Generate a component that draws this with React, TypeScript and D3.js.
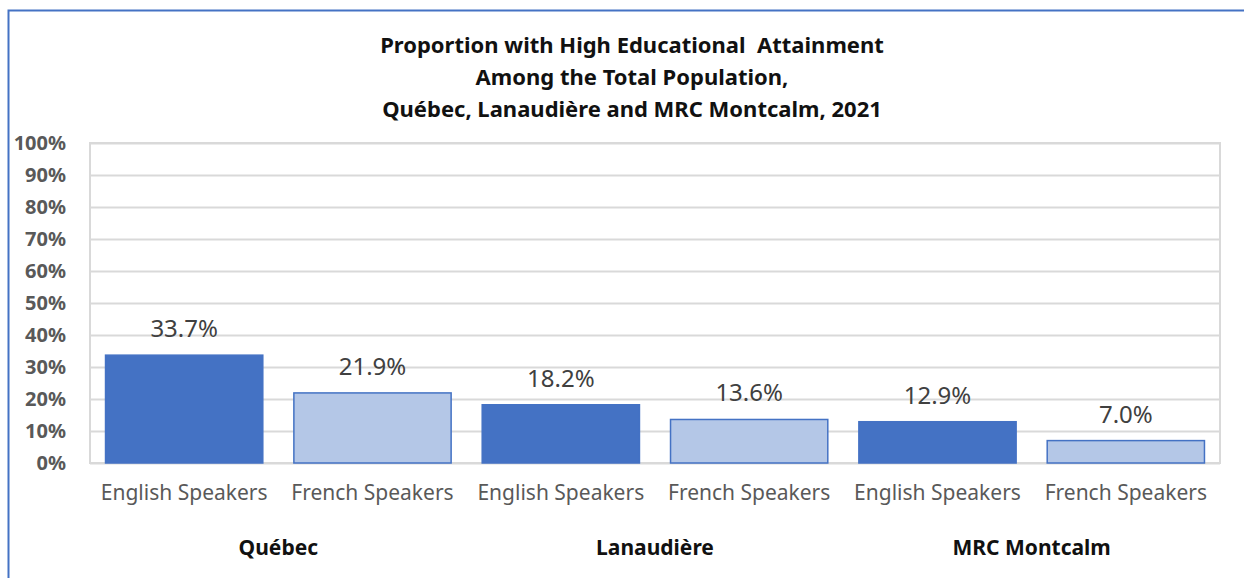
import React, { useEffect, useRef } from 'react'
import * as d3 from 'd3'

const titleLines = [
  'Proportion with High Educational  Attainment',
  'Among the Total Population,',
  'Québec, Lanaudière and MRC Montcalm, 2021',
]
const regions = ['Québec', 'Lanaudière', 'MRC Montcalm']
const speakers = ['English Speakers', 'French Speakers']
// values in % : [English, French] for each region
const englishValues = [33.7, 18.2, 12.9]
const frenchValues = [21.9, 13.6, 7.0]
const yTicks = [0, 10, 20, 30, 40, 50, 60, 70, 80, 90, 100]

const W = 1244
const H = 578
const FONT = '"Noto Sans", "Open Sans", sans-serif'

export default function App() {
  const ref = useRef<SVGSVGElement>(null)

  useEffect(() => {
    const svg = d3.select(ref.current)
    svg.selectAll('*').remove()

    const margin = { top: 143, right: 24, bottom: 115, left: 90 }
    const width = W - margin.left - margin.right
    const height = H - margin.top - margin.bottom

    // flatten data into bars
    const bars: { key: string; region: string; speaker: string; value: number; i: number }[] = []
    regions.forEach((r, ri) => {
      speakers.forEach((s, si) => {
        const value = si === 0 ? englishValues[ri] : frenchValues[ri]
        bars.push({ key: r + '|' + s, region: r, speaker: s, value, i: si })
      })
    })

    const x = d3.scaleBand()
      .domain(bars.map(d => d.key))
      .range([0, width])
      .paddingInner(0.165)
      .paddingOuter(0.0825)

    const y = d3.scaleLinear().domain([0, 100]).range([height, 0])

    // outer frame
    svg.append('rect')
      .attr('x', 8.5).attr('y', 10.5)
      .attr('width', W).attr('height', H)
      .attr('fill', 'white')
      .attr('stroke', '#4472C4')
      .attr('stroke-width', 2)

    // title
    svg.append('g')
      .selectAll('text')
      .data(titleLines)
      .enter().append('text')
      .attr('x', 632)
      .attr('y', (d, i) => 53 + i * 32)
      .attr('text-anchor', 'middle')
      .attr('font-family', FONT)
      .attr('font-weight', 'bold')
      .attr('font-size', 22)
      .attr('fill', '#111')
      .style('white-space', 'pre')
      .text(d => d)

    const g = svg.append('g')
      .attr('transform', `translate(${margin.left},${margin.top})`)

    // gridlines
    g.append('g')
      .selectAll('line')
      .data(yTicks)
      .enter().append('line')
      .attr('x1', 0).attr('x2', width)
      .attr('y1', d => Math.round(y(d)) + 0.5)
      .attr('y2', d => Math.round(y(d)) + 0.5)
      .attr('stroke', '#d9d9d9')
      .attr('stroke-width', 2)

    // plot border
    g.append('rect')
      .attr('x', 0).attr('y', 0)
      .attr('width', width).attr('height', height)
      .attr('fill', 'none')
      .attr('stroke', '#d9d9d9')
      .attr('stroke-width', 2)

    // y axis labels
    g.append('g')
      .selectAll('text')
      .data(yTicks)
      .enter().append('text')
      .attr('x', -24)
      .attr('y', d => y(d))
      .attr('dy', '0.35em')
      .attr('text-anchor', 'end')
      .attr('font-family', FONT)
      .attr('font-weight', 'bold')
      .attr('font-size', 20)
      .attr('fill', '#595959')
      .text(d => d + '%')

    // bars
    g.append('g')
      .selectAll('rect')
      .data(bars)
      .enter().append('rect')
      .attr('x', d => x(d.key)!)
      .attr('y', d => y(d.value))
      .attr('width', x.bandwidth())
      .attr('height', d => height - y(d.value))
      .attr('fill', d => d.i === 0 ? '#4472C4' : '#B4C7E7')
      .attr('stroke', '#4472C4')
      .attr('stroke-width', 1.5)

    // value labels
    g.append('g')
      .selectAll('text')
      .data(bars)
      .enter().append('text')
      .attr('x', d => x(d.key)! + x.bandwidth() / 2)
      .attr('y', d => y(d.value) - 18)
      .attr('text-anchor', 'middle')
      .attr('font-family', FONT)
      .attr('font-size', 24)
      .attr('fill', '#404040')
      .text(d => d.value.toFixed(1) + '%')

    // category labels
    g.append('g')
      .selectAll('text')
      .data(bars)
      .enter().append('text')
      .attr('x', d => x(d.key)! + x.bandwidth() / 2)
      .attr('y', height + 37)
      .attr('text-anchor', 'middle')
      .attr('font-family', FONT)
      .attr('font-size', 21)
      .attr('fill', '#595959')
      .text(d => d.speaker)

    // region labels
    g.append('g')
      .selectAll('text')
      .data(regions)
      .enter().append('text')
      .attr('x', r => {
        const a = x(r + '|' + speakers[0])!
        const b = x(r + '|' + speakers[1])! + x.bandwidth()
        return (a + b) / 2
      })
      .attr('y', height + 92)
      .attr('text-anchor', 'middle')
      .attr('font-family', FONT)
      .attr('font-weight', 'bold')
      .attr('font-size', 21)
      .attr('fill', '#111')
      .text(d => d)
  }, [])

  return <svg ref={ref} width={W} height={H} style={{ position: 'absolute', left: 0, top: 0 }}></svg>
}
